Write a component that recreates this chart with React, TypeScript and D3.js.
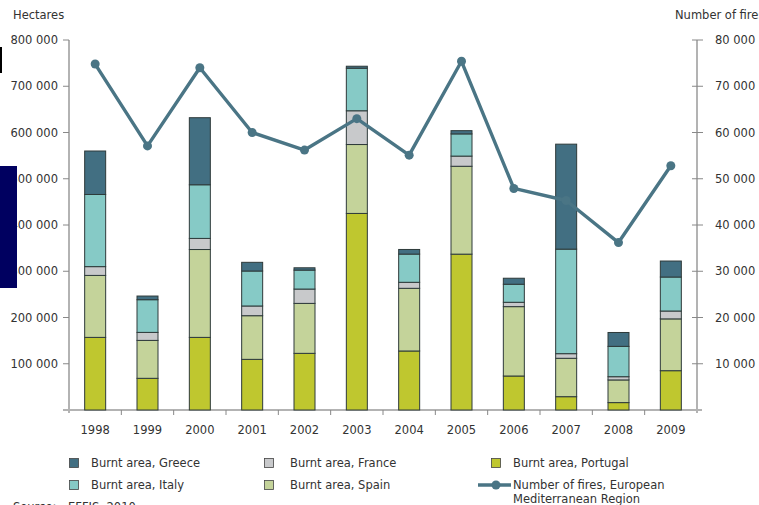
import React from "react";
import * as d3 from "d3";

const years = ["1998","1999","2000","2001","2002","2003","2004","2005","2006","2007","2008","2009"];
const portugal = [157000, 68500, 157000, 109500, 122500, 425000, 127600, 337000, 73500, 28800, 16000, 85000];
const spain = [134000, 82000, 190000, 94400, 108000, 149000, 135500, 190000, 150000, 83000, 49000, 112000];
const france = [19000, 17300, 24000, 21000, 31000, 73000, 13000, 22000, 9400, 10000, 7000, 17000];
const italy = [156000, 70700, 116000, 75600, 41000, 92000, 61000, 48000, 39000, 226000, 65600, 73500];
const greece = [94000, 7900, 145000, 18800, 5000, 4300, 10000, 7000, 13000, 227000, 30000, 34600];
const fires = [74800, 57100, 74000, 60000, 56200, 63000, 55100, 75400, 47900, 45300, 36200, 52800];
const leftTicks = [100000, 200000, 300000, 400000, 500000, 600000, 700000, 800000];
const rightTicks = [10000, 20000, 30000, 40000, 50000, 60000, 70000, 80000];

const seriesNames = ["Burnt area, Portugal", "Burnt area, Spain", "Burnt area, France", "Burnt area, Italy", "Burnt area, Greece"];
const seriesColors = ["#BFC72F", "#C4D39A", "#C8C9CB", "#86CAC6", "#426F82"];
const lineColor = "#4A7585";

const fmt = (v: number) => d3.format(",")(v).replace(/,/g, " ");

export default function App() {
  const W = 759, H = 505;
  const x0 = 69, x1 = 697, yBase = 410, yTop = 40;
  const band = d3.scaleBand().domain(years).range([x0, x1]);
  const yL = d3.scaleLinear().domain([0, 800000]).range([yBase, yTop]);
  const yR = d3.scaleLinear().domain([0, 80000]).range([yBase, yTop]);
  const data = [portugal, spain, france, italy, greece];
  const rows = years.map((y, i) => {
    const r: any = { year: y };
    data.forEach((s, k) => (r["s" + k] = s[i]));
    return r;
  });
  const stack = d3.stack().keys(["s0", "s1", "s2", "s3", "s4"])(rows as any);
  const cx = (y: string) => (band(y) as number) + band.bandwidth() / 2;
  const bw = 21;
  const line = d3.line<number>().x((_, i) => cx(years[i])).y((d) => yR(d));
  const font = "'DejaVu Sans', Verdana, sans-serif";
  const txt = "#333";
  const axisC = "#B3B3B3";

  const legend = [
    { k: 4, x: 74, tx: 91, y: 463 },
    { k: 3, x: 74, tx: 91, y: 485 },
    { k: 2, x: 269, tx: 290, y: 463 },
    { k: 1, x: 269, tx: 290, y: 485 },
    { k: 0, x: 496, tx: 513, y: 463 },
  ];

  return (
    <svg width={W} height={H} style={{ position: "fixed", left: 0, top: 0, background: "#fff" }} fontFamily={font}>
      <rect x={0} y={0} width={W} height={H} fill="#fff" />
      <text x={13} y={19} fontSize={11.5} fill={txt}>Hectares</text>
      <text x={675} y={19} fontSize={11.5} fill={txt}>Number of fires</text>
      <line x1={x0} x2={x0} y1={yTop} y2={yBase + 3} stroke={axisC} strokeWidth={2} />
      <line x1={x1} x2={x1} y1={yTop} y2={yBase + 3} stroke={axisC} strokeWidth={2} />
      <line x1={63} x2={702} y1={yBase} y2={yBase} stroke={axisC} strokeWidth={2} />
      {leftTicks.map((t) => (
        <g key={"l" + t}>
          <line x1={63} x2={x0} y1={yL(t)} y2={yL(t)} stroke="#888" strokeWidth={1} />
          <text x={58} y={yL(t) + 4} fontSize={11.5} textAnchor="end" fill={txt}>{fmt(t)}</text>
        </g>
      ))}
      {rightTicks.map((t) => (
        <g key={"r" + t}>
          <line x1={692} x2={703} y1={yR(t)} y2={yR(t)} stroke="#888" strokeWidth={1} />
          <text x={715} y={yR(t) + 4} fontSize={11.5} fill={txt}>{fmt(t)}</text>
        </g>
      ))}
      {years.slice(1).map((y) => (
        <line key={"xt" + y} x1={band(y)} x2={band(y)} y1={yBase} y2={yBase + 5} stroke="#888" strokeWidth={1} />
      ))}
      {years.map((y) => (
        <text key={"xl" + y} x={cx(y)} y={434} fontSize={11.5} textAnchor="middle" fill={txt}>{y}</text>
      ))}
      {stack.map((s, k) => (
        <g key={"s" + k}>
          {s.map((d, i) => (
            <rect key={i} x={cx(years[i]) - bw / 2} width={bw} y={yL(d[1])} height={yL(d[0]) - yL(d[1])}
              fill={seriesColors[k]} stroke="#2E3A3A" strokeWidth={1} />
          ))}
        </g>
      ))}
      <path d={line(fires) as string} fill="none" stroke={lineColor} strokeWidth={3.4} strokeLinejoin="round" />
      {fires.map((f, i) => (
        <circle key={"c" + i} cx={cx(years[i])} cy={yR(f)} r={4.5} fill={lineColor} />
      ))}
      {legend.map((l) => (
        <g key={"lg" + l.k}>
          <rect x={l.x - 4.5} y={l.y - 4.5} width={9} height={9} fill={seriesColors[l.k]} stroke="#444" strokeWidth={0.8} />
          <text x={l.tx} y={l.y + 4} fontSize={11.5} fill={txt}>{seriesNames[l.k]}</text>
        </g>
      ))}
      <line x1={478} x2={511} y1={485} y2={485} stroke={lineColor} strokeWidth={3.4} />
      <circle cx={496} cy={485} r={4.5} fill={lineColor} />
      <text x={513} y={489} fontSize={11.5} fill={txt}>Number of fires, European</text>
      <text x={513} y={503} fontSize={11.5} fill={txt}>Mediterranean Region</text>
      <text x={13} y={511} fontSize={11.5} fill={txt}>Source:</text>
      <text x={68} y={511} fontSize={11.5} fill={txt}>EFFIS, 2010</text>
      <rect x={0} y={166} width={17} height={122} fill="#000060" />
      <rect x={0} y={47} width={2} height={26} fill="#000" />
    </svg>
  );
}
